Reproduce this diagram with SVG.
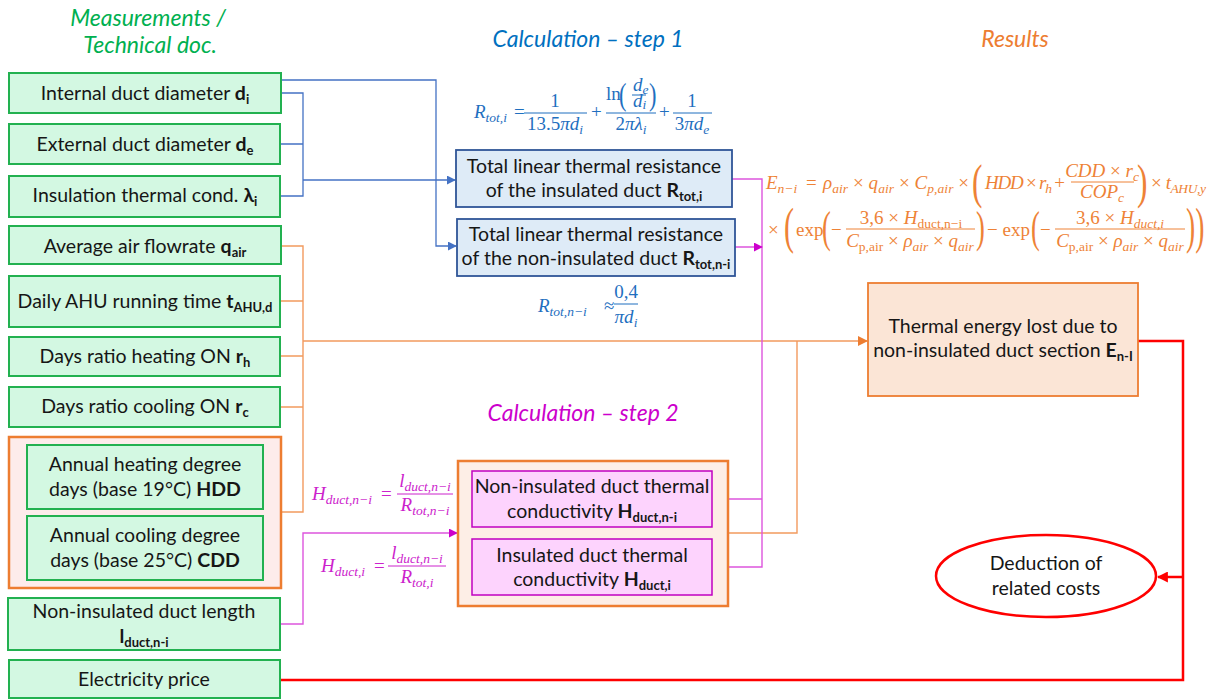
<svg xmlns="http://www.w3.org/2000/svg" width="1216" height="700" viewBox="0 0 1216 700">
  <style>
    .in { fill: #d3f8e2; stroke: #22b150; stroke-width: 2; }
    .grp { fill: #fdeceb; stroke: #ed7d31; stroke-width: 2.5; }
    .grp2 { fill: #fdeee6; stroke: #ed7d31; stroke-width: 2.5; }
    .calc1 { fill: #deebf7; stroke: #2f5597; stroke-width: 1.8; }
    .calc2 { fill: #fdd3fd; stroke: #c000c0; stroke-width: 1.5; }
    .res { fill: #fbe5d6; stroke: #ed7d31; stroke-width: 1.8; }
    .cost { fill: #ffffff; stroke: #ff0000; stroke-width: 2.5; }
    .t { font-family: Lato, "Open Sans", sans-serif; font-size: 19.5px; fill: #161616; text-anchor: middle; }
    .b { font-weight: bold; }
    .s { font-size: 13px; font-weight: bold; }
    .head { font-family: Lato, "Open Sans", sans-serif; font-size: 23px; font-style: italic; text-anchor: middle; }
    .m { font-family: "Liberation Serif", "DejaVu Serif", serif; font-size: 19px; }
    .mi { font-style: italic; }
    .ms { font-size: 13.5px; font-style: italic; }
    .mu { font-size: 13.5px; }
    .par { font-family: "Liberation Serif", "DejaVu Serif", serif; }
    .ctr { text-anchor: middle; }
    .blue { fill: #1f6fbf; }
    .orange { fill: #ee8236; }
    .mag { fill: #cc22cc; }
    .lb { fill: none; stroke: #4472c4; stroke-width: 1.3; }
    .lo { fill: none; stroke: #f29a5e; stroke-width: 1.4; }
    .lm { fill: none; stroke: #dd55dd; stroke-width: 1.4; }
    .lr { fill: none; stroke: #ff0000; stroke-width: 2.5; }
    .barb { stroke: #1f6fbf; stroke-width: 1; }
    .baro { stroke: #ee8236; stroke-width: 1; }
    .barm { stroke: #cc22cc; stroke-width: 1; }
  </style>
  <defs>
    <marker id="ab" viewBox="0 0 10 10" refX="9" refY="5" markerWidth="9" markerHeight="9" markerUnits="userSpaceOnUse" orient="auto">
      <path d="M0,0 L10,5 L0,10 z" fill="#4472c4"/>
    </marker>
    <marker id="ao" viewBox="0 0 10 10" refX="9" refY="5" markerWidth="10" markerHeight="10" markerUnits="userSpaceOnUse" orient="auto">
      <path d="M0,0 L10,5 L0,10 z" fill="#ed7d31"/>
    </marker>
    <marker id="am" viewBox="0 0 10 10" refX="9" refY="5" markerWidth="9" markerHeight="9" markerUnits="userSpaceOnUse" orient="auto">
      <path d="M0,0 L10,5 L0,10 z" fill="#cc00cc"/>
    </marker>
    <marker id="ar" viewBox="0 0 10 10" refX="9" refY="5" markerWidth="11" markerHeight="11" markerUnits="userSpaceOnUse" orient="auto">
      <path d="M0,0 L10,5 L0,10 z" fill="#ff0000"/>
    </marker>
  </defs>

  <rect width="1216" height="700" fill="#ffffff"/>

  <!-- column headings -->
  <g id="headings">
    <text class="head" x="148" y="26" fill="#00b050">Measurements /</text>
    <text class="head" x="150" y="53" fill="#00b050">Technical doc.</text>
    <text class="head" x="588" y="47" fill="#0070c0">Calculation – step 1</text>
    <text class="head" x="1015" y="47" fill="#ed7d31">Results</text>
    <text class="head" x="583" y="421" fill="#cc00cc">Calculation – step 2</text>
  </g>

  <!-- connectors -->
  <g id="connectors">
    <path class="lb" d="M281,80 H436 V246 H456" marker-end="url(#ab)"/>
    <path class="lb" d="M281,93 H303 V196 H281 M281,144 H303"/>
    <path class="lb" d="M303,180 H455" marker-end="url(#ab)"/>

    <path class="lo" d="M281,246 H303 V512 H281 M281,301 H303 M281,356 H303 M281,407 H303"/>
    <path class="lo" d="M303,341 H867" marker-end="url(#ao)"/>
    <path class="lo" d="M728,533 H797 V341"/>

    <path class="lm" d="M732,179 H762 V567 H713 M735,247 H762" marker-end="url(#am)"/>
    <path class="lm" d="M762,499 H713" marker-end="url(#am)"/>
    <path class="lm" d="M280,624 H303 V533 H457" marker-end="url(#am)"/>

    <path class="lr" d="M1138,341 H1183 V680 H281"/>
    <path class="lr" d="M1183,577 H1158" marker-end="url(#ar)"/>
  </g>

  <!-- input nodes -->
  <g id="n-di">
    <rect class="in" x="9" y="73" width="272" height="40"/>
    <text class="t" x="145" y="100">Internal duct diameter <tspan class="b">d</tspan><tspan class="s" dy="4">i</tspan></text>
  </g>
  <g id="n-de">
    <rect class="in" x="9" y="124" width="271" height="40"/>
    <text class="t" x="145" y="151">External duct diameter <tspan class="b">d</tspan><tspan class="s" dy="4">e</tspan></text>
  </g>
  <g id="n-lambda">
    <rect class="in" x="9" y="176" width="271" height="41"/>
    <text class="t" x="145" y="202">Insulation thermal cond. <tspan class="b">λ</tspan><tspan class="s" dy="4">i</tspan></text>
  </g>
  <g id="n-qair">
    <rect class="in" x="9" y="226" width="272" height="38"/>
    <text class="t" x="145" y="253">Average air flowrate <tspan class="b">q</tspan><tspan class="s" dy="4">air</tspan></text>
  </g>
  <g id="n-tahu">
    <rect class="in" x="9" y="276" width="271" height="51"/>
    <text class="t" x="145" y="308">Daily AHU running time <tspan class="b">t</tspan><tspan class="s" dy="4">AHU,d</tspan></text>
  </g>
  <g id="n-rh">
    <rect class="in" x="9" y="337" width="271" height="39"/>
    <text class="t" x="145" y="363">Days ratio heating ON <tspan class="b">r</tspan><tspan class="s" dy="4">h</tspan></text>
  </g>
  <g id="n-rc">
    <rect class="in" x="9" y="387" width="271" height="40"/>
    <text class="t" x="145" y="413">Days ratio cooling ON <tspan class="b">r</tspan><tspan class="s" dy="4">c</tspan></text>
  </g>
  <g id="n-degree-days">
    <rect class="grp" x="9" y="437" width="272" height="151"/>
    <g id="n-hdd">
      <rect class="in" x="27" y="445" width="236" height="64"/>
      <text class="t" x="145" y="471">Annual heating degree</text>
      <text class="t" x="145" y="496">days (base 19°C) <tspan class="b">HDD</tspan></text>
    </g>
    <g id="n-cdd">
      <rect class="in" x="27" y="516" width="236" height="64"/>
      <text class="t" x="145" y="542">Annual cooling degree</text>
      <text class="t" x="145" y="567">days (base 25°C) <tspan class="b">CDD</tspan></text>
    </g>
  </g>
  <g id="n-length">
    <rect class="in" x="8" y="598" width="272" height="52"/>
    <text class="t" x="144" y="618">Non-insulated duct length</text>
    <text class="t" x="144" y="643"><tspan class="b">l</tspan><tspan class="s" dy="4">duct,n-i</tspan></text>
  </g>
  <g id="n-price">
    <rect class="in" x="9" y="660" width="271" height="38"/>
    <text class="t" x="144" y="686">Electricity price</text>
  </g>

  <!-- calculation step 1 -->
  <g id="n-rtot-i">
    <rect class="calc1" x="456" y="150" width="276" height="57"/>
    <text class="t" x="594" y="173">Total linear thermal resistance</text>
    <text class="t" x="594" y="197">of the insulated duct <tspan class="b">R</tspan><tspan class="s" dy="4">tot,i</tspan></text>
  </g>
  <g id="n-rtot-ni">
    <rect class="calc1" x="457" y="219" width="278" height="57"/>
    <text class="t" x="596" y="241">Total linear thermal resistance</text>
    <text class="t" x="596" y="265">of the non-insulated duct <tspan class="b">R</tspan><tspan class="s" dy="4">tot,n-i</tspan></text>
  </g>

  <!-- calculation step 2 -->
  <g id="n-step2">
    <rect class="grp2" x="458" y="461" width="270" height="145"/>
    <g id="n-hduct-ni">
      <rect class="calc2" x="472" y="471" width="240" height="56"/>
      <text class="t" x="592" y="493">Non-insulated duct thermal</text>
      <text class="t" x="592" y="518">conductivity <tspan class="b">H</tspan><tspan class="s" dy="4">duct,n-i</tspan></text>
    </g>
    <g id="n-hduct-i">
      <rect class="calc2" x="472" y="539" width="240" height="56"/>
      <text class="t" x="592" y="562">Insulated duct thermal</text>
      <text class="t" x="592" y="586">conductivity <tspan class="b">H</tspan><tspan class="s" dy="4">duct,i</tspan></text>
    </g>
  </g>

  <!-- results -->
  <g id="n-energy">
    <rect class="res" x="868" y="283" width="270" height="113"/>
    <text class="t" x="1003" y="333">Thermal energy lost due to</text>
    <text class="t" x="1003" y="357">non-insulated duct section <tspan class="b">E</tspan><tspan class="s" dy="4">n-I</tspan></text>
  </g>
  <g id="n-costs">
    <ellipse class="cost" cx="1046" cy="576" rx="110" ry="41"/>
    <text class="t" x="1046" y="570">Deduction of</text>
    <text class="t" x="1046" y="595">related costs</text>
  </g>

  <!-- formula: insulated duct resistance -->
  <g id="f-rtot-i" class="blue">
    <text class="m" x="474" y="118"><tspan class="mi">R</tspan><tspan class="ms" dy="4">tot,i</tspan></text>
    <text class="m" x="514" y="118">=</text>
    <line class="barb" x1="524" y1="113" x2="587" y2="113"/>
    <text class="m ctr" x="555" y="107">1</text>
    <text class="m ctr" x="555" y="130">13.5<tspan class="mi">πd</tspan><tspan class="ms" dy="4">i</tspan></text>
    <text class="m" x="591" y="118">+</text>
    <line class="barb" x1="606" y1="113" x2="656" y2="113"/>
    <text class="m" x="606" y="100" font-size="17">ln</text>
    <text class="par" transform="translate(619,105) scale(0.7,1)" font-size="32">(</text>
    <line class="barb" x1="632" y1="95" x2="646" y2="95"/>
    <text class="m mi" x="633" y="91" font-size="15">d<tspan class="ms" dy="3" font-size="10">e</tspan></text>
    <text class="m mi" x="633" y="107" font-size="15">d<tspan class="ms" dy="2" font-size="10">i</tspan></text>
    <text class="par" transform="translate(649,105) scale(0.7,1)" font-size="32">)</text>
    <text class="m ctr" x="631" y="130">2<tspan class="mi">πλ</tspan><tspan class="ms" dy="4">i</tspan></text>
    <text class="m" x="659" y="118">+</text>
    <line class="barb" x1="673" y1="113" x2="712" y2="113"/>
    <text class="m ctr" x="692" y="107">1</text>
    <text class="m ctr" x="692" y="130">3<tspan class="mi">πd</tspan><tspan class="ms" dy="4">e</tspan></text>
  </g>

  <!-- formula: non-insulated duct resistance -->
  <g id="f-rtot-ni" class="blue">
    <text class="m" x="538" y="312"><tspan class="mi">R</tspan><tspan class="ms" dy="4">tot,n−i</tspan></text>
    <text class="m" x="604" y="312">≈</text>
    <line class="barb" x1="614" y1="304" x2="638" y2="304"/>
    <text class="m ctr" x="626" y="298">0,4</text>
    <text class="m ctr" x="626" y="323"><tspan class="mi">πd</tspan><tspan class="ms" dy="4">i</tspan></text>
  </g>

  <!-- formulas: duct thermal conductivities -->
  <g id="f-hduct" class="mag">
    <text class="m" x="312" y="500"><tspan class="mi">H</tspan><tspan class="ms" dy="4">duct,n−i</tspan></text>
    <text class="m" x="381" y="500">=</text>
    <line class="barm" x1="397" y1="494" x2="453" y2="494"/>
    <text class="m ctr" x="425" y="487"><tspan class="mi">l</tspan><tspan class="ms" dy="4">duct,n−i</tspan></text>
    <text class="m ctr" x="425" y="511"><tspan class="mi">R</tspan><tspan class="ms" dy="4">tot,n−i</tspan></text>

    <text class="m" x="321" y="572"><tspan class="mi">H</tspan><tspan class="ms" dy="4">duct,i</tspan></text>
    <text class="m" x="374" y="572">=</text>
    <line class="barm" x1="388" y1="566" x2="446" y2="566"/>
    <text class="m ctr" x="417" y="559"><tspan class="mi">l</tspan><tspan class="ms" dy="4">duct,n−i</tspan></text>
    <text class="m ctr" x="417" y="583"><tspan class="mi">R</tspan><tspan class="ms" dy="4">tot,i</tspan></text>
  </g>

  <!-- formula: energy lost -->
  <g id="f-energy" class="orange">
    <text class="m" x="766" y="189"><tspan class="mi">E</tspan><tspan class="ms" dy="4">n−i</tspan></text>
    <text class="m" x="806" y="189">=</text>
    <text class="m" x="823" y="189" textLength="146" lengthAdjust="spacing"><tspan class="mi">ρ</tspan><tspan class="ms" dy="4">air</tspan><tspan dy="-4"> × </tspan><tspan class="mi">q</tspan><tspan class="ms" dy="4">air</tspan><tspan dy="-4"> × </tspan><tspan class="mi">C</tspan><tspan class="ms" dy="4">p,air</tspan><tspan dy="-4"> ×</tspan></text>
    <text class="par" transform="translate(972,198) scale(0.65,1)" font-size="48">(</text>
    <text class="m" x="985" y="189" textLength="80" lengthAdjust="spacing"><tspan class="mi">HDD</tspan> × <tspan class="mi">r</tspan><tspan class="ms" dy="4">h</tspan><tspan dy="-4"> +</tspan></text>
    <line class="baro" x1="1071" y1="182" x2="1134" y2="182"/>
    <text class="m ctr" x="1102" y="177" font-size="17"><tspan class="mi">CDD</tspan> × <tspan class="mi">r</tspan><tspan class="ms" dy="4" font-size="12">c</tspan></text>
    <text class="m ctr" x="1102" y="198"><tspan class="mi">COP</tspan><tspan class="ms" dy="4">c</tspan></text>
    <text class="par" transform="translate(1137,198) scale(0.65,1)" font-size="48">)</text>
    <text class="m" x="1151" y="189" textLength="55" lengthAdjust="spacing">× <tspan class="mi">t</tspan><tspan class="ms" dy="4">AHU,y</tspan></text>

    <text class="m" x="768" y="236">×</text>
    <text class="par" transform="translate(784,243) scale(0.6,1)" font-size="50">(</text>
    <text class="m" x="796" y="236">exp</text>
    <text class="par" transform="translate(822,242) scale(0.6,1)" font-size="44">(</text>
    <text class="m" x="831" y="236">−</text>
    <line class="baro" x1="846" y1="229" x2="975" y2="229"/>
    <text class="m ctr" x="911" y="224">3,6 × <tspan class="mi">H</tspan><tspan class="mu" dy="4">duct,n−i</tspan></text>
    <text class="m ctr" x="910" y="247"><tspan class="mi">C</tspan><tspan class="mu" dy="4">p,air</tspan><tspan dy="-4"> × </tspan><tspan class="mi">ρ</tspan><tspan class="ms" dy="4">air</tspan><tspan dy="-4"> × </tspan><tspan class="mi">q</tspan><tspan class="ms" dy="4">air</tspan></text>
    <text class="par" transform="translate(976,242) scale(0.6,1)" font-size="44">)</text>
    <text class="m" x="987" y="236">− exp</text>
    <text class="par" transform="translate(1031,242) scale(0.6,1)" font-size="44">(</text>
    <text class="m" x="1040" y="236">−</text>
    <line class="baro" x1="1055" y1="229" x2="1185" y2="229"/>
    <text class="m ctr" x="1120" y="224">3,6 × <tspan class="mi">H</tspan><tspan class="ms" dy="4">duct,i</tspan></text>
    <text class="m ctr" x="1120" y="247"><tspan class="mi">C</tspan><tspan class="mu" dy="4">p,air</tspan><tspan dy="-4"> × </tspan><tspan class="mi">ρ</tspan><tspan class="ms" dy="4">air</tspan><tspan dy="-4"> × </tspan><tspan class="mi">q</tspan><tspan class="ms" dy="4">air</tspan></text>
    <text class="par" transform="translate(1186,243) scale(0.55,1)" font-size="50">))</text>
  </g>
</svg>
